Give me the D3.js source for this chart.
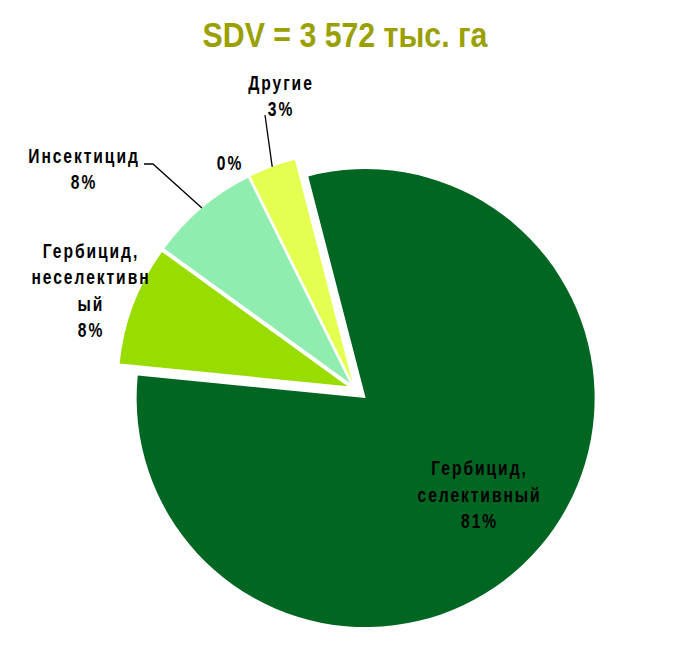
<!DOCTYPE html>
<html>
<head>
<meta charset="utf-8">
<script src="https://cdn.jsdelivr.net/npm/d3@7"></script>
<style>
  html, body { margin: 0; padding: 0; background: #fff; }
  svg { display: block; }
</style>
</head>
<body>
<svg id="chart" width="693" height="658"></svg>
<script>
// ---- data ----
const title = "SDV = 3 572 тыс. га";
const categories = ["Гербицид, селективный", "Гербицид, неселективный", "Инсектицид", "Фунгицид", "Другие"];
const values = [80.6, 8.4, 7.7, 0, 3.3];
const colors = ["#006622", "#99DD00", "#90EDB0", "#C0C0C0", "#E5FF50"];
const labelLines = [["Гербицид,", "селективный"], ["Гербицид,", "неселективн", "ый"], ["Инсектицид"], [], ["Другие"]];

// ---- layout ----
const W = 693, H = 658;
const cx = 355, cy = 389, R = 229;
const startDeg = -14.5;
const explode = [14, 8, 8, 8, 8];
const lineH = 26.5;
const labelLayout = [
  { inside: true, rad: 150 },
  { x: 91, y: 258 },
  { x: 84, y: 163, leader: [[144, 164], [153, 164]] },
  { x: 230, y: 170 },
  { x: 281, y: 90, leader: [[265, 115]] }
];

const svg = d3.select("#chart");
const font = "'Liberation Sans', Arial, sans-serif";

svg.append("g")
  .attr("transform", "translate(345,47) scale(0.866,1)")
  .append("text")
  .attr("x", 0).attr("y", 0)
  .attr("text-anchor", "middle")
  .attr("font-family", font)
  .attr("font-weight", "bold")
  .attr("font-size", 35)
  .attr("fill", "#99A000")
  .text(title);

const pie = d3.pie().sort(null).value(d => d)
  .startAngle(startDeg * Math.PI / 180)
  .endAngle(startDeg * Math.PI / 180 + 2 * Math.PI);
const arcs = pie(values);
const arc = d3.arc().innerRadius(0).outerRadius(R);

const g = svg.append("g").attr("transform", `translate(${cx},${cy})`);

function dirOf(a) { return [Math.sin(a), -Math.cos(a)]; }

arcs.forEach((a, i) => {
  if (a.endAngle - a.startAngle <= 0) return;
  const mid = (a.startAngle + a.endAngle) / 2;
  const [dx, dy] = dirOf(mid);
  g.append("path")
    .attr("d", arc(a))
    .attr("transform", `translate(${dx * explode[i]},${dy * explode[i]})`)
    .attr("fill", colors[i]);
});

// labels
arcs.forEach((a, i) => {
  const L = labelLayout[i];
  const mid = (a.startAngle + a.endAngle) / 2;
  const [dx, dy] = dirOf(mid);
  const pct = Math.round(a.data) + "%";
  const lines = labelLines[i].concat([pct]);
  let x, y0;
  if (L.inside) {
    x = cx + dx * (L.rad + explode[i]);
    const yc = cy + dy * (L.rad + explode[i]);
    y0 = yc - (lines.length - 1) * lineH / 2 + 6;
  } else {
    x = L.x; y0 = L.y;
  }
  const t = svg.append("g")
    .attr("transform", `translate(${x},0) scale(0.78,1)`)
    .append("text")
    .attr("text-anchor", "middle")
    .attr("font-family", font)
    .attr("font-weight", "bold")
    .attr("font-size", 20)
    .attr("letter-spacing", 2.5)
    .attr("fill", "#000");
  lines.forEach((ln, k) => {
    t.append("tspan").attr("x", 0).attr("y", y0 + k * lineH).text(ln);
  });
  if (L.leader) {
    const end = [cx + dx * (R + explode[i]), cy + dy * (R + explode[i])];
    const pts = L.leader.concat([end]);
    svg.append("path")
      .attr("d", d3.line()(pts))
      .attr("fill", "none")
      .attr("stroke", "#000")
      .attr("stroke-width", 1.3);
  }
});
</script>
</body>
</html>
